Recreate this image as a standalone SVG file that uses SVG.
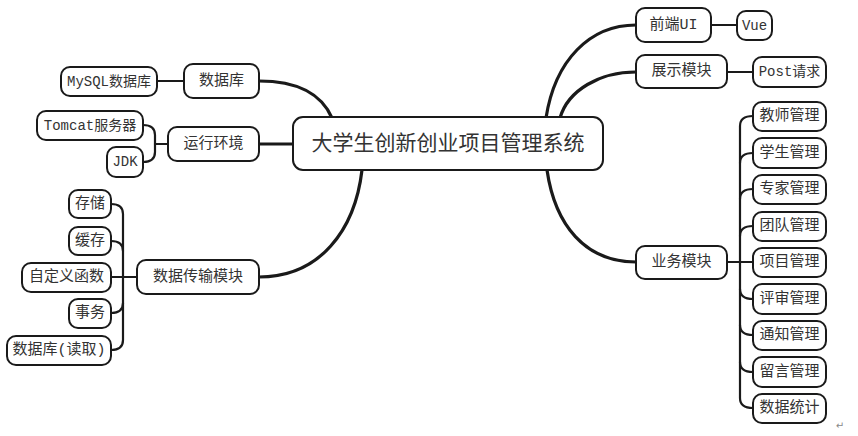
<svg xmlns="http://www.w3.org/2000/svg" width="858" height="436" viewBox="0 0 858 436">
<style>
.n rect{fill:#fff;stroke:#1a1a1a;stroke-width:2}
.n text{font-family:"Liberation Mono","Noto Sans CJK SC",monospace;font-size:15px;fill:#333;text-anchor:middle;dominant-baseline:central}
.c path{fill:none;stroke:#1a1a1a;stroke-linecap:round}
.thick{stroke-width:3.2}
.thin{stroke-width:2.2}
</style>
<rect width="858" height="436" fill="#fff"/>
<g class="c" id="connectors">
<path class="thick" d="M259,81 C300,81 322,95 332,118"/>
<path class="thick" d="M259,144 H293"/>
<path class="thick" d="M259,277 C320,277 355,230 362,170"/>
<path class="thick" d="M636,25 C590,25 555,60 546,118"/>
<path class="thick" d="M636,72 C600,72 568,90 560,118"/>
<path class="thick" d="M636,262 C585,262 555,225 547,170"/>
<path class="thin" d="M157,81 H184"/>
<path class="thin" d="M711,25 H737"/>
<path class="thin" d="M727,72 H753"/>
<path class="thin" d="M143,125 Q155,125 155,135 V152 Q155,162 143,162"/>
<path class="thin" d="M155,144 H168"/>
<path class="thin" d="M111,204 Q123,204 123,214 V340 Q123,350 111,350"/>
<path class="thin" d="M111,241 Q123,241 123,251"/>
<path class="thin" d="M111,313 Q123,313 123,303"/>
<path class="thin" d="M111,277 H137"/>
<path class="thin" d="M753,116 Q740,116 740,126 V398 Q740,408 753,408"/>
<path class="thin" d="M753,153 Q740,153 740,163"/>
<path class="thin" d="M753,189 Q740,189 740,199"/>
<path class="thin" d="M753,226 Q740,226 740,236"/>
<path class="thin" d="M727,262 H753"/>
<path class="thin" d="M753,299 Q740,299 740,289"/>
<path class="thin" d="M753,335 Q740,335 740,325"/>
<path class="thin" d="M753,372 Q740,372 740,362"/>
</g>
<g class="n" id="center"><rect x="293" y="117" width="310" height="53" rx="10"/><text x="448" y="144" style="font-size:21px">大学生创新创业项目管理系统</text></g>
<g class="n" id="shujuku"><rect x="184" y="64" width="75" height="34" rx="9"/><text x="221.5" y="81">数据库</text></g>
<g class="n" id="mysql"><rect x="61" y="67" width="96" height="29" rx="9"/><text x="109" y="81.5" style="font-size:14px">MySQL数据库</text></g>
<g class="n" id="yunxing"><rect x="168" y="127" width="91" height="34" rx="9"/><text x="213.5" y="144">运行环境</text></g>
<g class="n" id="tomcat"><rect x="37" y="111" width="106" height="29" rx="9"/><text x="90" y="125.5" style="font-size:14px">Tomcat服务器</text></g>
<g class="n" id="jdk"><rect x="107" y="147" width="36" height="30" rx="9"/><text x="125" y="162" style="font-size:14px">JDK</text></g>
<g class="n" id="chuanshu"><rect x="137" y="260" width="122" height="34" rx="9"/><text x="198" y="277">数据传输模块</text></g>
<g class="n" id="cunchu"><rect x="69" y="190" width="42" height="28" rx="9"/><text x="90" y="204">存储</text></g>
<g class="n" id="huancun"><rect x="69" y="227" width="42" height="28" rx="9"/><text x="90" y="241">缓存</text></g>
<g class="n" id="zidingyi"><rect x="22" y="263" width="89" height="29" rx="9"/><text x="66.5" y="277.5">自定义函数</text></g>
<g class="n" id="shiwu"><rect x="69" y="299" width="42" height="29" rx="9"/><text x="90" y="313.5">事务</text></g>
<g class="n" id="duqu"><rect x="7" y="336" width="104" height="29" rx="9"/><text x="59" y="350.5">数据库(读取)</text></g>
<g class="n" id="qianduan"><rect x="636" y="8" width="75" height="34" rx="9"/><text x="673.5" y="25">前端UI</text></g>
<g class="n" id="vue"><rect x="737" y="11" width="35" height="29" rx="9"/><text x="754.5" y="25.5" style="font-size:14px">Vue</text></g>
<g class="n" id="zhanshi"><rect x="636" y="55" width="91" height="33" rx="9"/><text x="681.5" y="71.5">展示模块</text></g>
<g class="n" id="post"><rect x="753" y="57" width="73" height="30" rx="9"/><text x="789.5" y="72" style="font-size:14px">Post请求</text></g>
<g class="n" id="yewu"><rect x="636" y="246" width="91" height="33" rx="9"/><text x="681.5" y="262.5">业务模块</text></g>
<g class="n" id="jiaoshi"><rect x="753" y="102" width="73" height="29" rx="9"/><text x="789.5" y="116.5">教师管理</text></g>
<g class="n" id="xuesheng"><rect x="753" y="138" width="73" height="30" rx="9"/><text x="789.5" y="153">学生管理</text></g>
<g class="n" id="zhuanjia"><rect x="753" y="175" width="73" height="29" rx="9"/><text x="789.5" y="189.5">专家管理</text></g>
<g class="n" id="tuandui"><rect x="753" y="212" width="73" height="29" rx="9"/><text x="789.5" y="226.5">团队管理</text></g>
<g class="n" id="xiangmu"><rect x="753" y="248" width="73" height="29" rx="9"/><text x="789.5" y="262.5">项目管理</text></g>
<g class="n" id="pingshen"><rect x="753" y="284" width="73" height="30" rx="9"/><text x="789.5" y="299">评审管理</text></g>
<g class="n" id="tongzhi"><rect x="753" y="321" width="73" height="29" rx="9"/><text x="789.5" y="335.5">通知管理</text></g>
<g class="n" id="liuyan"><rect x="753" y="357" width="73" height="30" rx="9"/><text x="789.5" y="372">留言管理</text></g>
<g class="n" id="tongji"><rect x="753" y="394" width="73" height="29" rx="9"/><text x="789.5" y="408.5">数据统计</text></g>
<text x="840" y="429" style="font-family:'DejaVu Sans',sans-serif;font-size:10px;fill:#888;text-anchor:middle">↵</text>
</svg>
